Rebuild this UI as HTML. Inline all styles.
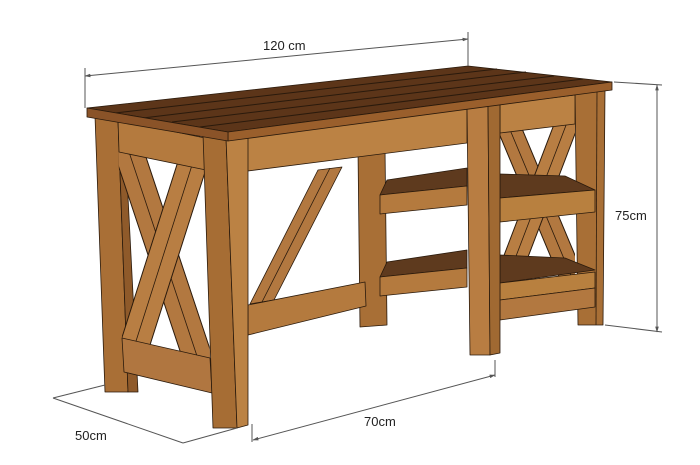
<!DOCTYPE html>
<html><head><meta charset="utf-8"><style>
html,body{margin:0;padding:0;background:#fff;}
svg{display:block;}
text{font-family:"Liberation Sans",sans-serif;font-size:13px;fill:#222;}
</style></head><body>
<svg width="700" height="465" viewBox="0 0 700 465" xmlns="http://www.w3.org/2000/svg">
<defs>
<clipPath id="lp"><polygon points="118,120 206,138 210,362 122,342"/></clipPath>
<clipPath id="rp"><polygon points="500,100 575,92 575,300 500,310"/></clipPath>
<marker id="ar" viewBox="0 0 10 10" refX="9" refY="5" markerWidth="6" markerHeight="6" orient="auto-start-reverse"><path d="M0,2 L10,5 L0,8 z" fill="#555"/></marker>
</defs>
<g stroke="#2a1a0c" stroke-width="0.8" stroke-linejoin="round">
<!-- middle back leg -->
<polygon points="358,150 385,148 387,325 360,327" fill="#a86f36"/>
<!-- back-left leg -->
<polygon points="95,116 118,118 128,392 105,392" fill="#a96f36"/>
<polygon points="118,118 124,119 138,392 128,392" fill="#8f5a2a"/>
<!-- left side braces -->
<g clip-path="url(#lp)">
<line x1="125" y1="140" x2="200" y2="365" stroke="#2a1a0c" stroke-width="30"/>
<line x1="125" y1="140" x2="200" y2="365" stroke="#b27840" stroke-width="28"/>
<line x1="125" y1="140" x2="200" y2="365" stroke="#2a1a0c" stroke-width="0.8"/>
<line x1="200" y1="140" x2="130" y2="360" stroke="#2a1a0c" stroke-width="30"/>
<line x1="200" y1="140" x2="130" y2="360" stroke="#b87e43" stroke-width="28"/>
<line x1="200" y1="140" x2="130" y2="360" stroke="#2a1a0c" stroke-width="0.8"/>
</g>
<polygon points="118,120 205,138 206,170 119,152" fill="#b47a3e"/>
<polygon points="122,338 210,358 212,393 124,372" fill="#b07640"/>
<!-- front apron -->
<polygon points="240,137 467,108 467,143 240,172" fill="#bb8244"/>
<!-- diagonal front brace -->
<polygon points="318,170 342,167 274,300 250,304" fill="#b27840"/>
<line x1="330" y1="168" x2="262" y2="302"/>
<!-- front stretcher -->
<polygon points="248,305 365,282 366,306 248,335" fill="#b47a3e"/>
<!-- shelves left portions -->
<polygon points="387,180 467,168 467,186 380,195" fill="#5e3a1e"/>
<polygon points="380,195 467,186 467,205 380,214" fill="#b47a3e"/>
<polygon points="387,262 467,250 467,268 380,277" fill="#5e3a1e"/>
<polygon points="380,277 467,268 467,287 380,296" fill="#b47a3e"/>
<!-- right side -->
<polygon points="575,92 605,90 603,325 578,325" fill="#a86f36"/>
<line x1="597" y1="91" x2="596" y2="325"/>
<g clip-path="url(#rp)">
<line x1="508" y1="125" x2="575" y2="285" stroke="#2a1a0c" stroke-width="24"/>
<line x1="508" y1="125" x2="575" y2="285" stroke="#b27840" stroke-width="22"/>
<line x1="508" y1="125" x2="575" y2="285" stroke="#2a1a0c" stroke-width="0.8"/>
<line x1="568" y1="120" x2="505" y2="285" stroke="#2a1a0c" stroke-width="24"/>
<line x1="568" y1="120" x2="505" y2="285" stroke="#b87e43" stroke-width="22"/>
<line x1="568" y1="120" x2="505" y2="285" stroke="#2a1a0c" stroke-width="0.8"/>
</g>
<polygon points="500,104 575,95 575,124 500,133" fill="#bb8244"/>
<polygon points="500,174 565,176 595,190 500,198" fill="#5e3a1e"/>
<polygon points="500,198 595,190 595,212 500,222" fill="#b8803f"/>
<polygon points="500,255 565,258 595,270 500,283" fill="#5e3a1e"/>
<polygon points="500,283 595,272 595,288 500,300" fill="#b8803f"/>
<polygon points="500,300 595,288 595,307 500,320" fill="#b27840"/>
<!-- middle front leg -->
<polygon points="467,108 488,106 490,355 470,355" fill="#b87d42"/>
<polygon points="488,106 500,104 500,353 490,355" fill="#a06932"/>
<!-- front-left leg -->
<polygon points="203,134 226,137 237,428 213,428" fill="#a66d34"/>
<polygon points="226,137 248,134 248,425 237,428" fill="#bb8244"/>
<!-- top -->
<polygon points="87,108 468,66 612,82 228,132" fill="#5c3519"/>
<line x1="115" y1="113" x2="497" y2="69" stroke-width="1"/>
<line x1="143" y1="118" x2="526" y2="72" stroke-width="1"/>
<line x1="172" y1="122" x2="554" y2="76" stroke-width="1"/>
<line x1="200" y1="127" x2="583" y2="79" stroke-width="1"/>
<polygon points="228,132 612,82 612,90 228,141" fill="#9a5f2c"/>
<polygon points="87,108 228,132 228,141 87,117" fill="#8a5328"/>
</g>
<!-- dimension lines -->
<g stroke="#555" stroke-width="1" fill="none">
<line x1="85" y1="108" x2="85" y2="68"/>
<line x1="468" y1="66" x2="468" y2="32"/>
<line x1="85" y1="76" x2="468" y2="39" marker-start="url(#ar)" marker-end="url(#ar)"/>
<line x1="614" y1="82" x2="662" y2="85"/>
<line x1="605" y1="325" x2="662" y2="332"/>
<line x1="657" y1="85" x2="657" y2="332" marker-start="url(#ar)" marker-end="url(#ar)"/>
<line x1="105" y1="385" x2="53" y2="398"/>
<line x1="53" y1="398" x2="183" y2="443"/>
<line x1="183" y1="443" x2="237" y2="428"/>
<line x1="252" y1="424" x2="252" y2="442"/>
<line x1="495" y1="360" x2="495" y2="377"/>
<line x1="253" y1="440" x2="495" y2="375" marker-start="url(#ar)" marker-end="url(#ar)"/>
</g>
<text x="263" y="50">120 cm</text>
<text x="615" y="220">75cm</text>
<text x="364" y="426">70cm</text>
<text x="75" y="440">50cm</text>
</svg>
</body></html>
